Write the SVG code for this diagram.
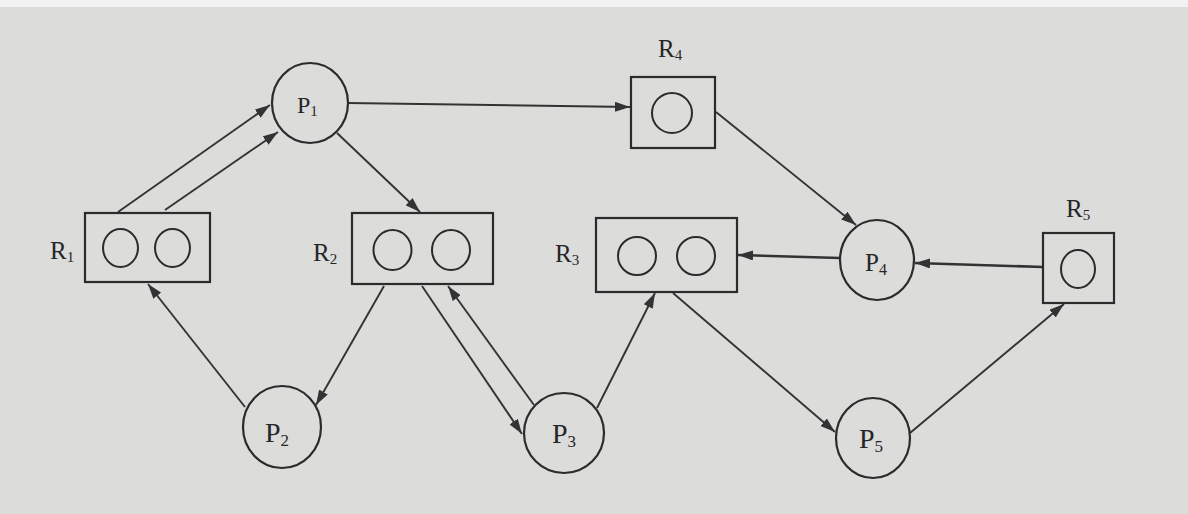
<svg xmlns="http://www.w3.org/2000/svg" width="1188" height="514" viewBox="0 0 1188 514">
<style>
.node{fill:none;stroke:#2b2b2b;stroke-width:2.2}
.unit{fill:none;stroke:#2b2b2b;stroke-width:2}
.edge{fill:none;stroke:#333;stroke-width:1.9;marker-end:url(#arr)}
.lbl{font-family:"Liberation Serif","Times New Roman",serif;font-size:25px;fill:#262626}
.big{font-size:28px}
.mid{font-size:25px}
.sm{font-size:24px}
.sub{font-size:15px}
</style>
<defs>
<marker id="arr" markerUnits="userSpaceOnUse" markerWidth="15" markerHeight="10" refX="15" refY="5" orient="auto">
<path d="M0,0 L15,5 L0,10 z" fill="#333"/>
</marker>
</defs>
<rect x="0" y="0" width="1188" height="514" fill="#dcdcdb"/>
<rect x="0" y="0" width="1188" height="7" fill="#f2f2f2"/>

<g id="edges">
<line class="edge" x1="118" y1="212" x2="270" y2="105"/>
<line class="edge" x1="165" y1="210" x2="278" y2="132"/>
<line class="edge" x1="337" y1="133" x2="420" y2="212"/>
<line class="edge" x1="348" y1="103" x2="630" y2="107"/>
<line class="edge" x1="716" y1="112" x2="856" y2="225"/>
<line class="edge" x1="840" y1="258" x2="738" y2="255" style="stroke-width:2.6"/>
<line class="edge" x1="1043" y1="267" x2="915" y2="263" style="stroke-width:2.6"/>
<line class="edge" x1="245" y1="407" x2="148" y2="284"/>
<line class="edge" x1="384" y1="286" x2="316" y2="405"/>
<line class="edge" x1="422" y1="286" x2="522" y2="434"/>
<line class="edge" x1="534" y1="405" x2="448" y2="286"/>
<line class="edge" x1="597" y1="408" x2="655" y2="293"/>
<line class="edge" x1="673" y1="293" x2="835" y2="432"/>
<line class="edge" x1="910" y1="433" x2="1064" y2="304"/>
</g>

<g id="P1">
<ellipse class="node" cx="310" cy="103" rx="38" ry="40"/>
<text class="lbl sm" x="297" y="113">P<tspan class="sub" dy="3">1</tspan></text>
</g>
<g id="P2">
<ellipse class="node" cx="282" cy="427" rx="39" ry="41"/>
<text class="lbl big" x="265" y="442">P<tspan style="font-size:17px" dy="4">2</tspan></text>
</g>
<g id="P3">
<ellipse class="node" cx="564" cy="433" rx="40" ry="40"/>
<text class="lbl big" x="552" y="443">P<tspan style="font-size:17px" dy="4">3</tspan></text>
</g>
<g id="P4">
<ellipse class="node" cx="877" cy="260" rx="37" ry="40"/>
<text class="lbl mid" x="865" y="271">P<tspan style="font-size:16px" dy="4">4</tspan></text>
</g>
<g id="P5">
<ellipse class="node" cx="873" cy="438" rx="37" ry="40"/>
<text class="lbl big" x="859" y="448">P<tspan style="font-size:17px" dy="4">5</tspan></text>
</g>

<g id="R1">
<rect class="node" x="85" y="213" width="125" height="69"/>
<ellipse class="unit" cx="120.5" cy="248" rx="17.5" ry="19"/>
<ellipse class="unit" cx="172.5" cy="248" rx="17.5" ry="19"/>
<text class="lbl" x="50" y="259">R<tspan class="sub" dy="3">1</tspan></text>
</g>
<g id="R2">
<rect class="node" x="352" y="213" width="141" height="71"/>
<ellipse class="unit" cx="392.5" cy="250" rx="19" ry="20"/>
<ellipse class="unit" cx="451" cy="250" rx="19" ry="20"/>
<text class="lbl" x="313" y="261">R<tspan class="sub" dy="3">2</tspan></text>
</g>
<g id="R3">
<rect class="node" x="596" y="218" width="141" height="74"/>
<ellipse class="unit" cx="637" cy="256" rx="19" ry="19"/>
<ellipse class="unit" cx="696" cy="256" rx="19" ry="19"/>
<text class="lbl" x="555" y="262">R<tspan class="sub" dy="3">3</tspan></text>
</g>
<g id="R4">
<rect class="node" x="631" y="77" width="84" height="71"/>
<ellipse class="unit" cx="672" cy="113" rx="20" ry="20"/>
<text class="lbl" x="658" y="57">R<tspan class="sub" dy="3">4</tspan></text>
</g>
<g id="R5">
<rect class="node" x="1043" y="233" width="71" height="70"/>
<ellipse class="unit" cx="1078" cy="269" rx="17" ry="19"/>
<text class="lbl" x="1066" y="217">R<tspan class="sub" dy="3">5</tspan></text>
</g>
</svg>
